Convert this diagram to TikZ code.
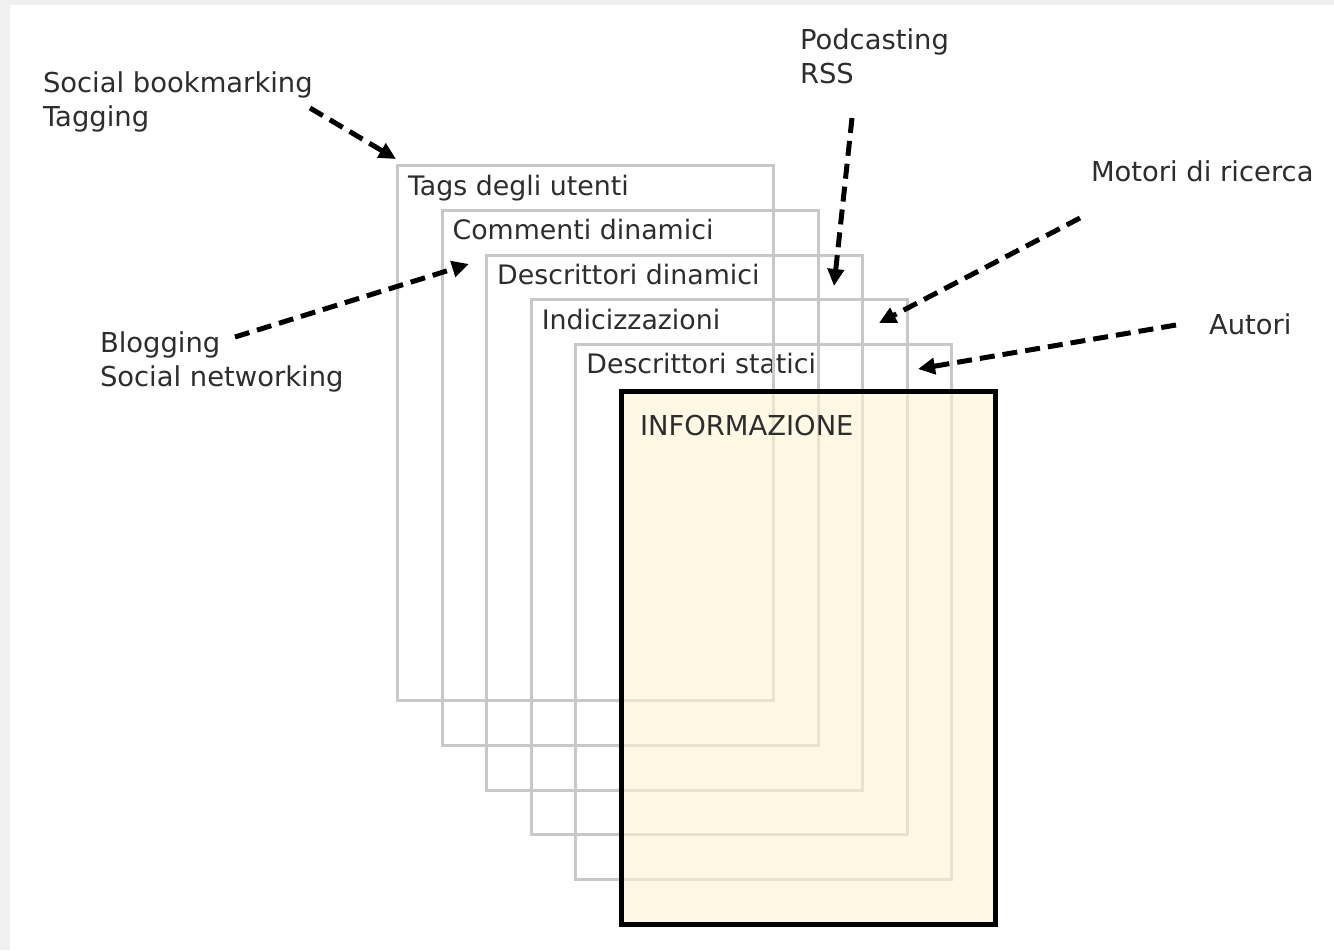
\documentclass[tikz,border=0pt]{standalone}
\usepackage{fontspec}
\setmainfont{DejaVu Sans}
\usepackage{xcolor}
\usepackage{tikz}
\usetikzlibrary{arrows.meta}

\definecolor{layergray}{RGB}{200,200,200}
\definecolor{infofill}{RGB}{255,244,212}
\definecolor{txtgray}{RGB}{45,45,45}
\definecolor{bggray}{RGB}{240,240,240}

\begin{document}
\begin{tikzpicture}[x=0.5pt,y=-0.5pt,
  every node/.style={inner sep=0pt,outer sep=0pt,text=txtgray,font=\fontsize{13.7}{17}\selectfont},
  layer/.style={draw=layergray,line width=1.5pt,minimum width=188pt,minimum height=267.5pt,anchor=north west},
  layername/.style={anchor=base west,font=\fontsize{13.4}{17}\selectfont},
  infobox/.style={draw=black,line width=2.7pt,fill=infofill,fill opacity=0.6,minimum width=187pt,minimum height=266.5pt,anchor=north west},
  pointer/.style={-{Triangle[length=8.5pt,width=8pt]},line width=2.5pt,dash pattern=on 7.5pt off 4pt,black}]
\useasboundingbox (0,0) rectangle (1334,950);
\fill [bggray] (0,0) rectangle (1334,950);
\fill [white] (10,5) rectangle (1334,950);
% layer names
\foreach \i/\txt in {0/Tags degli utenti,1/Commenti dinamici,2/Descrittori dinamici,3/Indicizzazioni,4/Descrittori statici}
  \node [layername] (name\i) at ({408+44.6*\i},{195+44.7*\i}) {\txt};
% layers
\foreach \i in {0,...,4}
  \node [layer] (box\i) at ({397.5+44.6*\i},{165.5+44.75*\i}) {};
\node [infobox] (info) at (621.5,391.5) {};
\node [anchor=base west] (infotext) at (640,435) {INFORMAZIONE};
% sources
\node [anchor=base west,align=left] (social) at (43,126) {Social bookmarking\\Tagging};
\node [anchor=base west,align=left] (podcast) at (800,83) {Podcasting\\RSS};
\node [anchor=base west] (motori) at (1091,181) {Motori di ricerca};
\node [anchor=base west] (autori) at (1209,334) {Autori};
\node [anchor=base west,align=left] (blog) at (100,386) {Blogging\\Social networking};
\coordinate (socialtail) at (310,108);
\coordinate (socialtip) at (396,159);
\coordinate (podcasttail) at (852,118);
\coordinate (podcasttip) at (834,286);
\coordinate (motoritail) at (1080,218);
\coordinate (motoritip) at (879,323);
\coordinate (autoritail) at (1176,325);
\coordinate (autoritip) at (918,369);
\coordinate (blogtail) at (235,337);
\coordinate (blogtip) at (469,264);
\draw [pointer] (socialtail) -- (socialtip);
\draw [pointer] (podcasttail) -- (podcasttip);
\draw [pointer] (motoritail) -- (motoritip);
\draw [pointer] (autoritail) -- (autoritip);
\draw [pointer] (blogtail) -- (blogtip);
\end{tikzpicture}
\end{document}
